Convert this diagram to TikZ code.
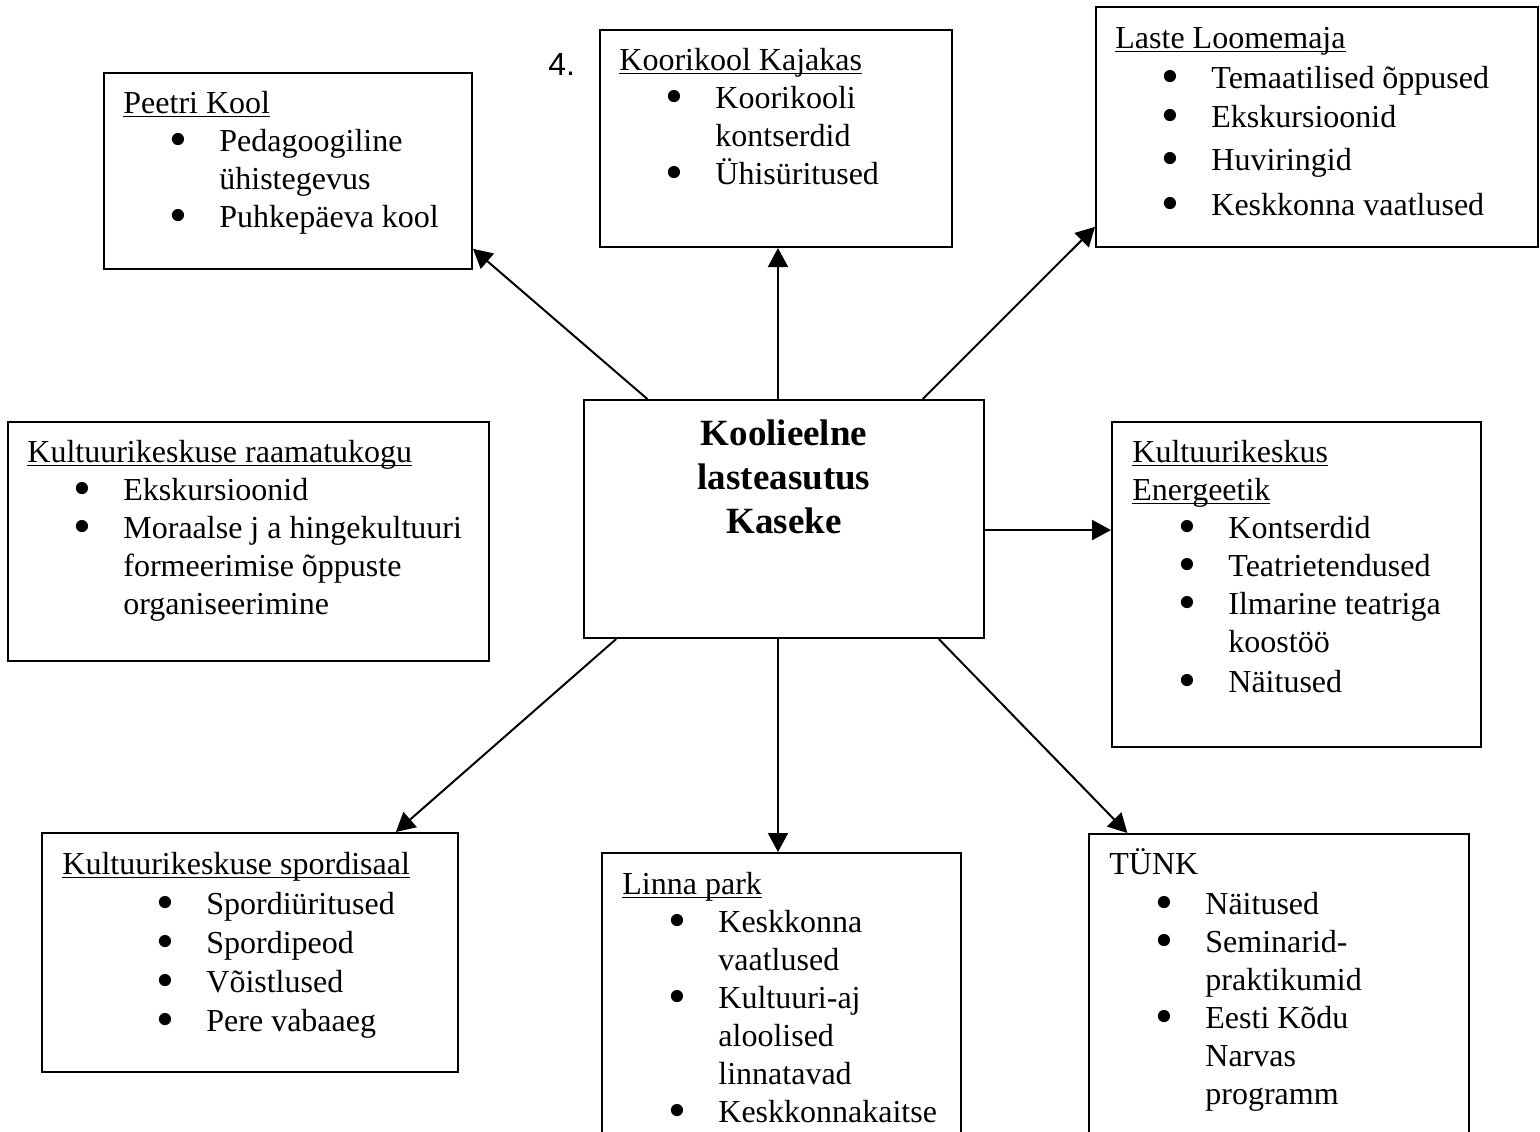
\documentclass[tikz,border=0pt]{standalone}
\usepackage{fontspec}
\setmainfont{Liberation Serif}
\newfontfamily\numbrifont{Liberation Sans}
\usetikzlibrary{arrows.meta,calc,fit}
\newcommand{\jooni}[1]{\leavevmode\setbox0\hbox{#1}\rlap{\rule[-2.2pt]{\wd0}{0.9pt}}\box0}
\newcommand{\tapp}{\smash{\raisebox{-2.8pt}{\scalebox{1.6}{\textbullet}}}}
\newcommand{\pkt}[2][0pt]{\hspace*{#1}\makebox[48pt][l]{\hspace*{27.5pt}\makebox[0pt]{\tapp}}#2}
\newcommand{\jrg}[2][0pt]{\hspace*{#1}\hspace*{48pt}#2}
\newcommand{\plokk}[1]{\parbox[t]{240pt}{\raggedright\leavevmode #1}}

\tikzset{
	kast/.style={draw, rectangle, line width=1pt, inner sep=0pt},
	tekst/.style={inner sep=0pt, anchor=base west, font=\fontsize{16pt}{19pt}\selectfont},
	nool/.style={line width=1pt, -{Triangle[length=9.5pt,width=10pt]}}
}

\begin{document}
\begin{tikzpicture}[x=0.5pt,y=-0.5pt]
		%%%%% START %%%%%
		\useasboundingbox (0,0) rectangle (1540,1131);
		\clip (0,0) rectangle (1540,1131);
		\fill[white] (0,0) rectangle (1540,1131);
		
		\node[kast, fit={(584,400) (984,638)}] (kesk) {};
		\node[inner sep=0pt, anchor=base, font=\bfseries\fontsize{18.5pt}{22pt}\selectfont] (kesktxt) at ([shift={(0,46)}]kesk.north) {\parbox[t]{190pt}{\centering Koolieelne\\ lasteasutus\\ Kaseke}};
		
		\node[kast, fit={(104,73) (472,269)}] (peetri) {};
		\node[tekst] (peetritxt) at ([shift={(20,41)}]peetri.north west) {\plokk{\jooni{Peetri Kool}\\ \pkt{Pedagoogiline}\\ \jrg{ühistegevus}\\ \pkt{Puhkepäeva kool}}};
		
		\node[inner sep=0pt, anchor=base west, font=\numbrifont\fontsize{16pt}{19pt}\selectfont] (nr) at (548,75) {4.};
		\node[kast, fit={(600,30) (952,247)}] (koori) {};
		\node[tekst] (kooritxt) at ([shift={(20,41)}]koori.north west) {\plokk{\jooni{Koorikool Kajakas}\\ \pkt{Koorikooli}\\ \jrg{kontserdid}\\ \pkt{Ühisüritused}}};
		
		\node[kast, fit={(1096,7) (1538,247)}] (laste) {};
		\node[tekst] (lastetxt) at ([shift={(20,42)}]laste.north west) {\plokk{\jooni{Laste Loomemaja}\\[1pt] \pkt{Temaatilised õppused}\\[0.5pt] \pkt{Ekskursioonid}\\[2.5pt] \pkt{Huviringid}\\[3.5pt] \pkt{Keskkonna vaatlused}}};
		
		\node[kast, fit={(8,422) (489,661)}] (raamat) {};
		\node[tekst] (raamattxt) at ([shift={(20,41)}]raamat.north west) {\plokk{\jooni{Kultuurikeskuse raamatukogu}\\ \pkt{Ekskursioonid}\\ \pkt{Moraalse j a hingekultuuri}\\ \jrg{formeerimise õppuste}\\ \jrg{organiseerimine}}};
		
		\node[kast, fit={(1112,422) (1481,747)}] (energ) {};
		\node[tekst] (energtxt) at ([shift={(21,41)}]energ.north west) {\plokk{\jooni{Kultuurikeskus}\\ \jooni{Energeetik}\\ \pkt{Kontserdid}\\ \pkt{Teatrietendused}\\ \pkt{Ilmarine teatriga}\\ \jrg{koostöö}\\[1pt] \pkt{Näitused}}};
		
		\node[kast, fit={(42,833) (458,1072)}] (sport) {};
		\node[tekst] (sporttxt) at ([shift={(21,42)}]sport.north west) {\plokk{\jooni{Kultuurikeskuse spordisaal}\\[1pt] \pkt[24pt]{Spordiüritused}\\[0.5pt] \pkt[24pt]{Spordipeod}\\[0.5pt] \pkt[24pt]{Võistlused}\\[0.5pt] \pkt[24pt]{Pere vabaaeg}}};
		
		\node[kast, fit={(602,853) (961,1200)}] (linna) {};
		\node[tekst] (linnatxt) at ([shift={(21,42)}]linna.north west) {\plokk{\jooni{Linna park}\\ \pkt{Keskkonna}\\ \jrg{vaatlused}\\ \pkt{Kultuuri-aj}\\ \jrg{aloolised}\\ \jrg{linnatavad}\\ \pkt{Keskkonnakaitse}}};
		
		\node[kast, fit={(1089,834) (1469,1200)}] (tunk) {};
		\node[tekst] (tunktxt) at ([shift={(21,41)}]tunk.north west) {\plokk{TÜNK\\[1pt] \pkt{Näitused}\\ \pkt{Seminarid-}\\ \jrg{praktikumid}\\ \pkt{Eesti Kõdu}\\ \jrg{Narvas}\\ \jrg{programm}}};
		
		% nooled keskelt
		\coordinate (ylal) at ($(kesk.north west)!0.485!(kesk.north east)$);
		\coordinate (all) at ($(kesk.south west)!0.485!(kesk.south east)$);
		\coordinate (parem) at ($(kesk.north east)!0.546!(kesk.south east)$);
		\draw[nool] ($(kesk.north west)!0.16!(kesk.north east)$) -- ($(peetri.north east)!0.893!(peetri.south east)$);
		\draw[nool] (ylal) -- (ylal |- koori.south);
		\draw[nool] ($(kesk.north west)!0.845!(kesk.north east)$) -- ($(laste.north west)!0.9125!(laste.south west)$);
		\draw[nool] (parem) -- (parem -| energ.west);
		\draw[nool] ($(kesk.south west)!0.0825!(kesk.south east)$) -- ($(sport.north west)!0.849!(sport.north east)$);
		\draw[nool] (all) -- (all |- linna.north);
		\draw[nool] ($(kesk.south west)!0.885!(kesk.south east)$) -- ($(tunk.north west)!0.103!(tunk.north east)$);
		
		%%%%% END %%%%%
\end{tikzpicture}
\end{document}
